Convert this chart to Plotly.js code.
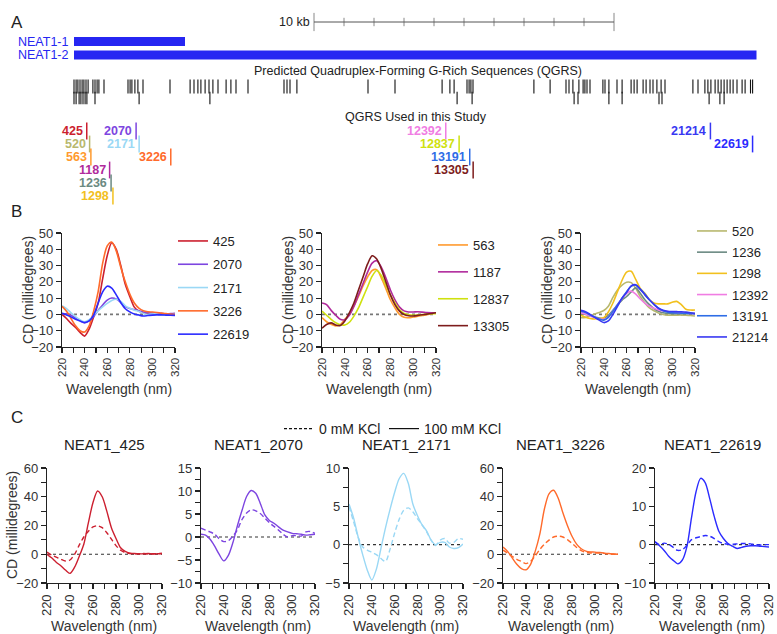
<!DOCTYPE html>
<html>
<head>
<meta charset="utf-8">
<script src="https://cdn.plot.ly/plotly-3.0.1.min.js"></script>
<style>
html, body { margin: 0; padding: 0; background: #fff; }
#chart { width: 777px; height: 634px; }
</style>
</head>
<body>
<div id="chart"></div>
<script>
var W = 777, H = 634;

// ---- panel A: NEAT1 map, positions in kb ----
var transcripts = ['NEAT1-1', 'NEAT1-2'];
var transcriptKb = [3.7, 22.75];
var scaleKb = [0, 1, 2, 3, 4, 5, 6, 7, 8, 9, 10];

var qgrsRow1 = [0, 0.07, 0.13, 0.2, 0.27, 0.33, 0.4, 0.47, 0.63, 0.7, 0.77, 0.83, 1.0,
  1.8, 1.87, 1.93, 2.03, 2.13, 2.3, 3.2, 3.87, 4.0, 4.13, 4.23, 4.37, 4.5, 4.63, 4.8,
  5.07, 5.23, 5.4, 5.8, 7.0, 7.1, 7.2, 7.43, 9.8, 10.7, 12.27, 12.53, 12.67,
  13.1, 13.17, 13.23, 13.3, 15.33, 15.87, 16.4, 16.5, 16.63, 16.83, 16.97, 17.03, 17.1, 17.2,
  17.63, 17.7, 17.83, 18.1, 18.27, 18.57, 18.67, 18.77, 18.97, 19.07, 19.2, 19.3, 19.43, 19.57,
  19.7, 20.63, 20.8, 21.03, 21.13, 21.23, 21.37, 21.47, 21.57, 21.67, 21.77, 21.87, 21.97,
  22.1, 22.27, 22.37, 22.55, 22.62];
var qgrsRow2 = [0, 0.07, 0.17, 0.23, 0.3, 0.37, 0.43, 0.7, 2.17, 4.53, 12.77, 13.27,
  16.67, 16.8, 17.83, 18.27, 19.5, 19.6, 21.17, 21.53, 21.67];

var usedNames = ['425', '520', '563', '1187', '1236', '1298', '2070', '2171', '3226',
  '12392', '12837', '13191', '13305', '21214', '22619'];
var usedRow = [0, 1, 2, 3, 4, 5, 0, 1, 2, 0, 1, 2, 3, 0, 1];

var colors = {
  '425': '#cc1f2f', '520': '#b8b86e', '563': '#ff9a2e', '1187': '#b02a9c',
  '1236': '#6b8a82', '1298': '#f2c01e', '2070': '#7d45e0', '2171': '#9ad8f5',
  '3226': '#ff6a2b', '12392': '#f07de3', '12837': '#cfe10f', '13191': '#2f6de6',
  '13305': '#7d1c1c', '21214': '#3838f2', '22619': '#2b2bff'
};

// ---- panels B and C: CD spectra (millidegrees) ----
var wl = [220, 224, 228, 232, 236, 240, 244, 248, 252, 256, 260, 264, 268,
  272, 276, 280, 284, 288, 292, 296, 300, 304, 308, 312, 316, 320];

// 100 mM KCl
var cd425 = [0, -2.5, -5.5, -8, -11, -13.3, -9, -1.5, 7, 22, 36, 44, 40, 30, 18.5, 11, 4.5, 2, 0.8, 0.5, 0.3, 0.3, 0.5, 0.2, 0.3, 0.5];
var cd2070 = [0.6, 0.4, -0.5, -2, -3.8, -5.2, -4, -1.2, 2.5, 5.8, 8.8, 10.1, 9.5, 7.3, 4.8, 3.6, 3, 2.2, 1.5, 1.1, 0.8, 0.7, 0.6, 0.4, 0.5, 0.6];
var cd2171 = [5.3, 3.5, 1, -1.3, -3.3, -4.6, -3.2, -0.5, 2.2, 4.6, 6.8, 8.6, 9.3, 8, 5.3, 3.8, 2.6, 1.8, 0.6, 0, 0.3, 0.3, -0.3, -0.5, -0.4, 0.1];
var cd3226 = [5, 2, -2.5, -7, -10, -10.8, -7, 2, 14, 31.5, 42, 44.5, 39, 29, 20, 12.5, 7, 3.8, 2.2, 1.6, 1.5, 1.2, 0.8, 0.5, 0.2, 0];
var cd22619 = [0.75, -0.3, -1.5, -3, -4.1, -5, -4, -0.5, 7, 13.8, 17.3, 16.2, 12, 7.3, 3.5, 1.6, 0.3, -0.4, -1, -0.7, -0.4, -0.3, -0.3, -0.4, -0.5, -0.6];
var cd563 = [-2, -4.5, -6, -7, -6.3, -3, 0, 5, 11, 17.5, 23, 27, 27.5, 22.5, 16, 9, 4, 0, -1.8, -2, -1.6, -1.1, -0.6, -0.2, 0.4, 1];
var cd1187 = [7, 6, 2.5, -0.5, -3, -3.2, -0.5, 5, 12, 19, 26, 31.5, 33, 29, 22.5, 15, 9, 4.5, 2.2, 1.5, 1.5, 1.6, 1.4, 1.1, 1, 1];
var cd12837 = [2, -0.5, -3, -5, -6.3, -6.5, -4.8, -1, 4, 10.5, 17, 23.5, 27, 24, 18, 12, 7, 2.8, 0.6, -0.2, -0.5, -0.3, 0, 0.2, 0.4, 0.5];
var cd13305 = [-8.5, -6.2, -5.2, -6.5, -6.8, -4, 1, 7, 15, 23, 31, 36, 34, 28, 20, 12, 6, 2, 0, -0.8, -1, -0.6, -0.2, 0.2, 0.6, 1];
var cd520 = [-2, -1.8, -0.8, 0.3, 1.2, 2.4, 5, 10.5, 15, 18, 19.8, 19.5, 16, 11, 7, 4, 2.3, 0.8, 0, -0.4, -0.4, -0.4, -0.4, -0.5, -0.7, -1];
var cd1236 = [1, 0, -0.8, -1.6, -2.2, -2.5, -0.6, 2.5, 5.8, 8.8, 11, 13.8, 16.3, 13, 9, 6, 3.6, 2, 1, 0.7, 0.5, 0.5, 0.5, 0.5, 0.5, 0.5];
var cd1298 = [-0.5, -1.8, -2.5, -2.8, -2.5, -2, 1.5, 7, 14, 21, 26, 26.5, 21.5, 16, 13, 9, 7, 6.5, 6.5, 6.5, 7.5, 8, 6, 3.2, 2.7, 2.7];
var cd12392 = [1, 0.2, -1, -2, -2.7, -3, -1.6, 2, 6, 9.8, 13, 14.3, 12.5, 9.5, 7, 5, 3.8, 2.8, 2.2, 1.8, 1.5, 1.2, 1, 0.8, 0.6, 0.5];
var cd13191 = [2, 1.2, -0.3, -1.6, -2.8, -3.5, -1.8, 2, 6, 10, 14, 17.2, 18, 15.5, 12.5, 9, 6.2, 3.8, 2.2, 1.4, 1, 0.9, 0.8, 0.7, 0.6, 0.5];
var cd21214 = [2.5, 1.7, 0, -1.8, -3.5, -5, -4, 0, 5, 10, 13.5, 17.5, 18.2, 15.5, 12, 9, 6.2, 3.8, 2.6, 2, 1.8, 1.7, 1.6, 1.4, 1, 0.5];

// 0 mM KCl
var cd425_0 = [1.5, -0.5, -2, -3.5, -4.7, -4, 0, 6.3, 12, 16, 19, 19.8, 18.5, 15, 10.5, 6, 2.8, 1.2, 0.5, 0.3, 0.3, 0.5, 0.3, 0.3, 0.5, 0.5];
var cd2070_0 = [1.9, 1.5, 1.1, 0.6, -0.4, -1, -0.8, 0.2, 1.6, 3.8, 5.2, 5.9, 5.7, 5.1, 4.1, 3.1, 2.3, 1.5, 0.6, 0, 0.3, 0.3, 0.2, 1.1, 1.2, 0.8];
var cd2171_0 = [5, 3, 1, -0.3, -0.7, -1, -1.3, -1.8, -2.2, -0.6, 1.5, 3.3, 4.5, 4.8, 4.3, 3.4, 2.6, 1.7, 0.6, -0.1, 0.6, 0.8, 0.2, 0.3, 0.8, 0.7];
var cd3226_0 = [2.8, 0.8, -1.5, -3.5, -5, -6.5, -5, -1.2, 3.3, 7, 9.8, 12, 12.6, 12, 10.2, 7.6, 4.7, 2.5, 1.4, 0.9, 0.9, 0.9, 0.6, 0.1, 0, 0];
var cd22619_0 = [0.75, 0, 0.4, 0.1, -0.7, -1.5, -1.3, -0.2, 1.3, 1.8, 2.1, 2.4, 2.2, 1.6, 0.8, 0.3, 0.1, 0.1, 0.2, 0.3, 0.3, 0.2, 0, -0.1, 0, 0];

var groupB1 = [['425', cd425], ['2070', cd2070], ['2171', cd2171], ['3226', cd3226], ['22619', cd22619]];
var groupB2 = [['563', cd563], ['1187', cd1187], ['12837', cd12837], ['13305', cd13305]];
var groupB3 = [['520', cd520], ['1236', cd1236], ['1298', cd1298], ['12392', cd12392], ['13191', cd13191], ['21214', cd21214]];
var groupC = [['425', cd425, cd425_0], ['2070', cd2070, cd2070_0], ['2171', cd2171, cd2171_0],
  ['3226', cd3226, cd3226_0], ['22619', cd22619, cd22619_0]];

// ---- layout helpers (pixel boxes) ----
function xdom(a, b) { return [a / W, b / W]; }
function ydom(top, bot) { return [1 - bot / H, 1 - top / H]; }

var INK = '#222';
function xAx(a, b, anchor, fsize) {
  return {
    domain: xdom(a, b), anchor: anchor, range: [220, 320], tick0: 220, dtick: 20,
    ticks: 'outside', ticklen: 5, tickwidth: 1.2, tickcolor: INK,
    minor: { dtick: 10, ticks: 'outside', ticklen: 5, tickwidth: 1.2, tickcolor: INK },
    showline: true, linecolor: INK, linewidth: 1.2, showgrid: false, zeroline: false,
    tickangle: -90, tickfont: { size: fsize, color: '#333' }, ticklabeloverflow: 'allow',
    fixedrange: true
  };
}
function yAx(top, bot, anchor, range, dtick, minor) {
  var ax = {
    domain: ydom(top, bot), anchor: anchor, range: range, tick0: 0, dtick: dtick,
    ticks: 'outside', ticklen: 5, tickwidth: 1.2, tickcolor: INK,
    showline: true, linecolor: INK, linewidth: 1.2, showgrid: false, zeroline: false,
    tickfont: { size: 13, color: '#333' }, fixedrange: true
  };
  if (minor) ax.minor = { dtick: minor, ticks: 'outside', ticklen: 5, tickwidth: 1.2, tickcolor: INK };
  return ax;
}

var traces = [];
var annotations = [];
var shapes = [];

function axisTitle(text, xpx, ypx, angle) {
  annotations.push({ xref: 'paper', yref: 'paper', x: xpx / W, y: 1 - ypx / H, text: text,
    textangle: angle, showarrow: false, xanchor: 'center', yanchor: 'middle',
    font: { size: 14, color: '#333' } });
}

// ---- panel A ----
var rowY = [41.5, 55];
transcripts.forEach(function (t, i) {
  traces.push({ x: [0, transcriptKb[i]], y: [rowY[i], rowY[i]], xaxis: 'x', yaxis: 'y', mode: 'lines',
    line: { color: '#2626f2', width: 9 }, showlegend: false, hoverinfo: 'skip' });
  annotations.push({ x: 0, y: rowY[i], xref: 'x', yref: 'y', text: t, showarrow: false,
    xanchor: 'right', xshift: -3, font: { size: 12.5, color: '#2626f2' } });
});

var scaleStart = 8;
traces.push({ x: [scaleStart, scaleStart + 10], y: [22, 22], xaxis: 'x', yaxis: 'y', mode: 'lines',
  line: { color: '#555', width: 1 }, showlegend: false, hoverinfo: 'skip' });
traces.push({ x: scaleKb.map(function (k) { return scaleStart + k; }), y: scaleKb.map(function () { return 22; }),
  xaxis: 'x', yaxis: 'y', mode: 'markers', showlegend: false, hoverinfo: 'skip',
  marker: { symbol: 'line-ns-open', color: '#555', line: { width: 1 },
    size: scaleKb.map(function (k) { return (k === 0 || k === 10) ? 13 : 6; }) } });
annotations.push({ x: scaleStart, y: 22, xref: 'x', yref: 'y', text: '10 kb', showarrow: false,
  xanchor: 'right', xshift: -2, font: { size: 12.5, color: '#222' } });

annotations.push({ x: 11.47, y: 71, xref: 'x', yref: 'y', showarrow: false,
  text: 'Predicted Quadruplex-Forming G-Rich Sequences (QGRS)', font: { size: 12.5, color: '#222' } });
annotations.push({ x: 11.4, y: 117, xref: 'x', yref: 'y', showarrow: false,
  text: 'QGRS Used in this Study', font: { size: 12.5, color: '#222' } });

[[qgrsRow1, 86.5, 10], [qgrsRow2, 98, 9]].forEach(function (r) {
  traces.push({ x: r[0], y: r[0].map(function () { return r[1]; }), xaxis: 'x', yaxis: 'y',
    mode: 'markers', showlegend: false, hoverinfo: 'skip',
    marker: { symbol: 'line-ns-open', size: r[2], color: '#111', line: { width: 1.1 } } });
});

var usedKb = usedNames.map(function (n) { return Number(n) / 1000; });
var usedY = usedRow.map(function (r) { return 131 + 13 * r; });
traces.push({ x: usedKb, y: usedY, xaxis: 'x', yaxis: 'y', mode: 'markers', showlegend: false, hoverinfo: 'skip',
  marker: { symbol: 'line-ns-open', size: 12, line: { width: 1.5 },
    color: usedNames.map(function (n) { return colors[n]; }) } });
usedNames.forEach(function (n, i) {
  annotations.push({ x: usedKb[i], y: usedY[i], xref: 'x', yref: 'y', text: '<b>' + n + '</b>',
    showarrow: false, xanchor: 'right', xshift: -2, font: { size: 12.5, color: colors[n] } });
});

// ---- panel B ----
var boxesB = [[62, 175], [322, 436], [581, 695]];
var groupsB = [groupB1, groupB2, groupB3];
var legendNames = ['legend', 'legend2', 'legend3'];
groupsB.forEach(function (g, k) {
  var xa = 'x' + (k + 2), ya = 'y' + (k + 2);
  g.forEach(function (s) {
    traces.push({ x: wl, y: s[1], name: s[0], xaxis: xa, yaxis: ya, mode: 'lines',
      line: { color: colors[s[0]], width: 1.6, shape: 'spline', smoothing: 0.8 },
      legend: legendNames[k], legendgroup: 'b' + k + s[0], hoverinfo: 'skip' });
  });
  shapes.push({ type: 'line', xref: xa + ' domain', yref: ya, x0: 0, x1: 1, y0: 0, y1: 0, layer: 'below',
    line: { color: '#777', width: 1.8, dash: 'dot' } });
  var b = boxesB[k];
  axisTitle('Wavelength (nm)', (b[0] + b[1]) / 2, 389, 0);
  axisTitle('CD (millidegrees)', b[0] - 34, 290, -90);
});

// ---- panel C ----
var boxesC = [[47, 162], [201, 315], [349, 463], [503, 618], [655, 769]];
var rangesC = [[-20, 60], [-10, 15], [-5, 10], [-20, 60], [-10, 20]];
var dticksC = [[20, 10], [5, 2.5], [5, 2.5], [20, 10], [10, 5]];
groupC.forEach(function (s, k) {
  var xa = 'x' + (k + 5), ya = 'y' + (k + 5);
  traces.push({ x: wl, y: s[2], xaxis: xa, yaxis: ya, mode: 'lines', showlegend: false, hoverinfo: 'skip',
    line: { color: colors[s[0]], width: 1.4, shape: 'spline', smoothing: 0.8, dash: '5px,3px' } });
  traces.push({ x: wl, y: s[1], xaxis: xa, yaxis: ya, mode: 'lines', showlegend: false, hoverinfo: 'skip',
    line: { color: colors[s[0]], width: 1.4, shape: 'spline', smoothing: 0.8 } });
  shapes.push({ type: 'line', xref: xa + ' domain', yref: ya, x0: 0, x1: 1, y0: 0, y1: 0, layer: 'below',
    line: { color: '#333', width: 1.1, dash: 'dot' } });
  annotations.push({ xref: xa + ' domain', x: 0.5, yref: 'paper', y: 1 - 455 / H, showarrow: false,
    text: 'NEAT1_' + s[0], font: { size: 15, color: '#222' } });
  var b = boxesC[k];
  axisTitle('Wavelength (nm)', (b[0] + b[1]) / 2, 626, 0);
});
axisTitle('CD (millidegrees)', 12, 525, -90);

// condition key
traces.push({ x: [null], y: [null], xaxis: 'x5', yaxis: 'y5', mode: 'lines', name: '0 mM KCl',
  line: { color: '#111', width: 1.2, dash: '3px,2px' }, legend: 'legend4', legendwidth: 60 });
traces.push({ x: [null], y: [null], xaxis: 'x5', yaxis: 'y5', mode: 'lines', name: '100 mM KCl',
  line: { color: '#111', width: 1.2 }, legend: 'legend4', legendwidth: 90 });

// panel letters
[['A', 11], ['B', 212], ['C', 417]].forEach(function (p) {
  annotations.push({ xref: 'paper', yref: 'paper', x: 9 / W, y: 1 - p[1] / H, text: p[0], showarrow: false,
    font: { size: 17, color: '#222' } });
});

function legendAt(xpx, ypx, gap) {
  return { x: xpx / W, y: 1 - ypx / H, xanchor: 'left', yanchor: 'top', bgcolor: 'rgba(0,0,0,0)',
    font: { size: 13, color: '#222' }, tracegroupgap: gap, traceorder: 'grouped', itemwidth: 30 };
}

var layout = {
  width: W, height: H, margin: { l: 0, r: 0, t: 0, b: 0 },
  paper_bgcolor: '#fff', plot_bgcolor: 'rgba(0,0,0,0)',
  font: { family: '"Liberation Sans", Arial, sans-serif', size: 13, color: '#222' },
  xaxis: { domain: [0, 1], range: [-74 / 30, 703 / 30], visible: false, fixedrange: true },
  yaxis: { domain: ydom(0, 205), range: [205, 0], visible: false, fixedrange: true },
  legend: legendAt(173, 226, 3.4),
  legend2: legendAt(433, 230, 7),
  legend3: legendAt(692, 216, 1.3),
  legend4: { x: 279 / W, y: 1 - 413 / H, xanchor: 'left', yanchor: 'top', orientation: 'h',
    bgcolor: 'rgba(0,0,0,0)', font: { size: 14, color: '#222' }, itemwidth: 30 },
  annotations: annotations,
  shapes: shapes
};
boxesB.forEach(function (b, k) {
  var n = k + 2;
  layout['xaxis' + n] = xAx(b[0], b[1], 'y' + n, 11.5);
  layout['yaxis' + n] = yAx(233, 347, 'x' + n, [-20, 50], 10, null);
});
boxesC.forEach(function (b, k) {
  var n = k + 5;
  layout['xaxis' + n] = xAx(b[0], b[1], 'y' + n, 13);
  layout['yaxis' + n] = yAx(468, 583, 'x' + n, rangesC[k], dticksC[k][0], dticksC[k][1]);
});

Plotly.newPlot('chart', traces, layout, { displayModeBar: false, staticPlot: true });
</script>
</body>
</html>
